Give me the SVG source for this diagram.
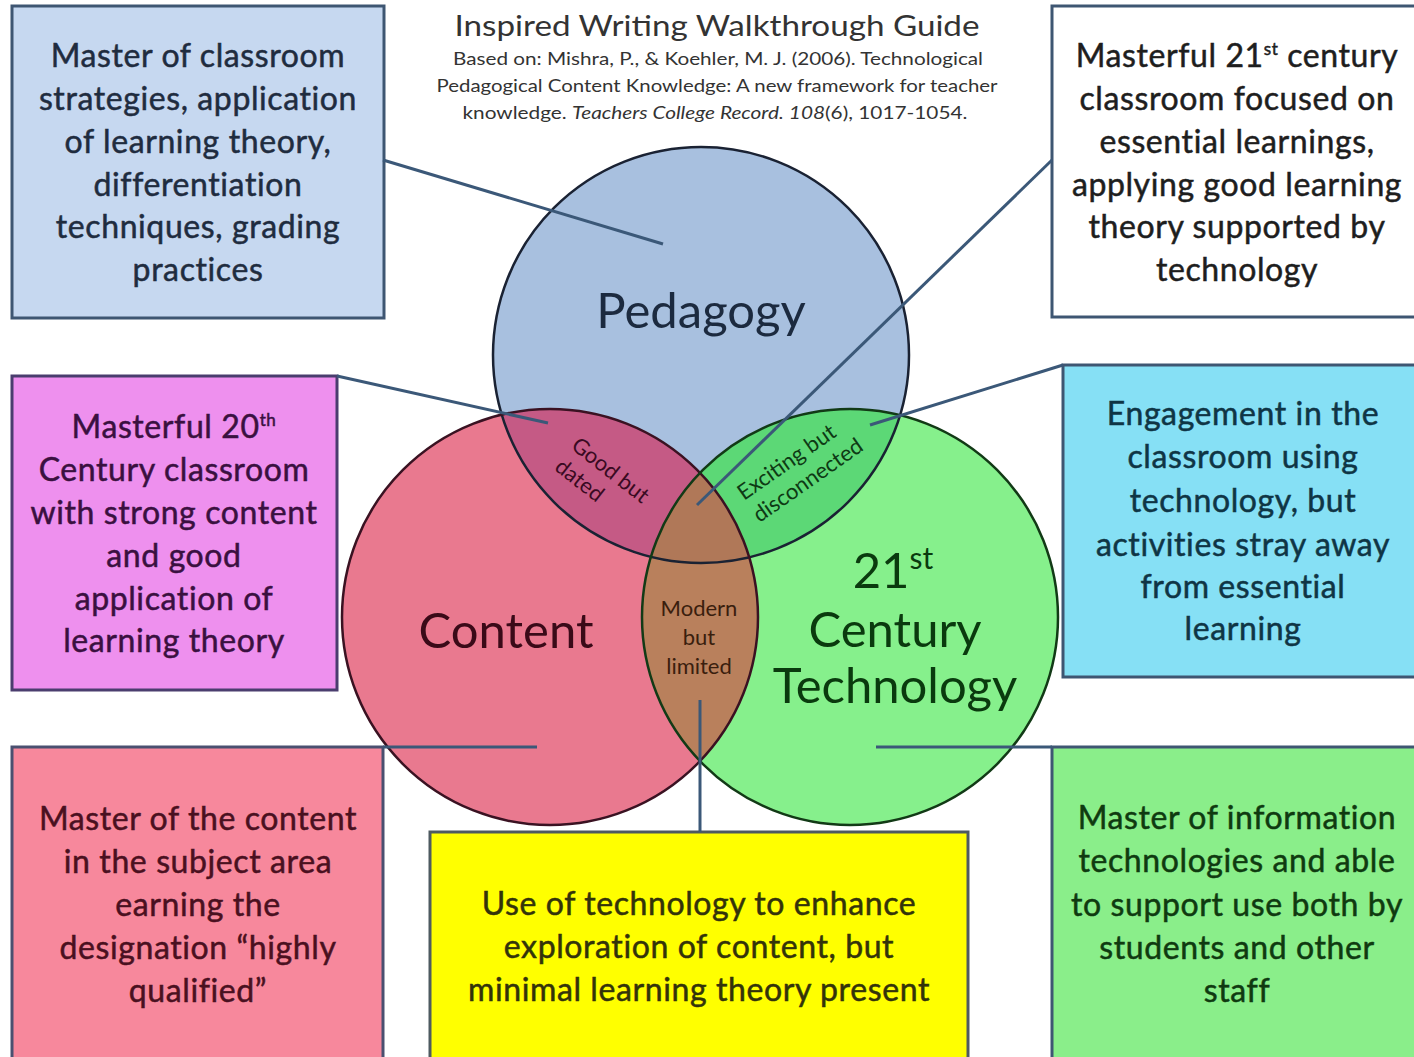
<svg xmlns="http://www.w3.org/2000/svg" width="1414" height="1057" viewBox="0 0 1414 1057">
<style>
  .box { stroke-width: 3; }
  .bt { font-family: Lato, "Open Sans", "Liberation Sans", sans-serif; font-size: 32px; letter-spacing: 0.6px; text-anchor: middle; stroke-width: 0.5px; }
  .big { font-family: Lato, "Open Sans", "Liberation Sans", sans-serif; font-size: 49px; text-anchor: middle; }
  .small { font-family: Lato, "Open Sans", "Liberation Sans", sans-serif; font-size: 22px; }
  .conn { stroke: #3b5878; stroke-width: 3; fill: none; }
  .ttl { font-family: Lato, "Open Sans", "Liberation Sans", sans-serif; fill: #333; text-anchor: middle; }
</style>
<defs>
  <clipPath id="clipB"><circle cx="701" cy="355" r="208"/></clipPath>
  <clipPath id="clipR"><circle cx="550" cy="617" r="208"/></clipPath>
</defs>
<rect width="1414" height="1057" fill="#ffffff"/>

<g id="title">
  <text class="ttl" x="717" y="36" font-size="29" textLength="525" lengthAdjust="spacingAndGlyphs">Inspired Writing Walkthrough Guide</text>
  <text class="ttl" x="718" y="65" font-size="17" textLength="530" lengthAdjust="spacingAndGlyphs">Based on: Mishra, P., &amp; Koehler, M. J. (2006). Technological</text>
  <text class="ttl" x="717" y="92" font-size="17" textLength="561" lengthAdjust="spacingAndGlyphs">Pedagogical Content Knowledge: A new framework for teacher</text>
  <text class="ttl" x="715" y="119" font-size="17" textLength="505" lengthAdjust="spacingAndGlyphs">knowledge. <tspan font-style="italic">Teachers College Record. 108</tspan>(6), 1017-1054.</text>
</g>

<g id="box-pedagogy">
  <rect class="box" x="12" y="6" width="372" height="312" fill="#c6d8f0" stroke="#3e5672"/>
  <g class="bt" fill="#1f2c3f" stroke="#1f2c3f">
    <text x="198" y="67">Master of classroom</text>
    <text x="198" y="110">strategies, application</text>
    <text x="198" y="153">of learning theory,</text>
    <text x="198" y="196">differentiation</text>
    <text x="198" y="238">techniques, grading</text>
    <text x="198" y="281">practices</text>
  </g>
</g>

<g id="box-tpack">
  <rect class="box" x="1052" y="6" width="380" height="311" fill="#ffffff" stroke="#3e5672"/>
  <g class="bt" fill="#1e1e1e" stroke="#1e1e1e">
    <text x="1237" y="67">Masterful 21<tspan font-size="17" dy="-12">st</tspan><tspan dy="12"> century</tspan></text>
    <text x="1237" y="110">classroom focused on</text>
    <text x="1237" y="153">essential learnings,</text>
    <text x="1237" y="196">applying good learning</text>
    <text x="1237" y="238">theory supported by</text>
    <text x="1237" y="281">technology</text>
  </g>
</g>

<g id="box-pck">
  <rect class="box" x="12" y="376" width="325" height="314" fill="#ee90ee" stroke="#4a3d6e"/>
  <g class="bt" fill="#3a1040" stroke="#3a1040">
    <text x="174" y="438">Masterful 20<tspan font-size="17" dy="-12">th</tspan></text>
    <text x="174" y="481">Century classroom</text>
    <text x="174" y="524">with strong content</text>
    <text x="174" y="567">and good</text>
    <text x="174" y="610">application of</text>
    <text x="174" y="652">learning theory</text>
  </g>
</g>

<g id="box-tpk">
  <rect class="box" x="1063" y="365" width="370" height="312" fill="#86e0f5" stroke="#3e5672"/>
  <g class="bt" fill="#0f3545" stroke="#0f3545">
    <text x="1243" y="425">Engagement in the</text>
    <text x="1243" y="468">classroom using</text>
    <text x="1243" y="512">technology, but</text>
    <text x="1243" y="556">activities stray away</text>
    <text x="1243" y="598">from essential</text>
    <text x="1243" y="640">learning</text>
  </g>
</g>

<g id="box-content">
  <rect class="box" x="12" y="747" width="371" height="330" fill="#f7889c" stroke="#4a5070"/>
  <g class="bt" fill="#4a1020" stroke="#4a1020">
    <text x="198" y="830">Master of the content</text>
    <text x="198" y="873">in the subject area</text>
    <text x="198" y="916">earning the</text>
    <text x="198" y="959">designation “highly</text>
    <text x="198" y="1002">qualified”</text>
  </g>
</g>

<g id="box-tck">
  <rect class="box" x="430" y="832" width="538" height="250" fill="#ffff00" stroke="#4e5a60"/>
  <g class="bt" fill="#33330a" stroke="#33330a">
    <text x="699" y="915">Use of technology to enhance</text>
    <text x="699" y="958">exploration of content, but</text>
    <text x="699" y="1001">minimal learning theory present</text>
  </g>
</g>

<g id="box-technology">
  <rect class="box" x="1052" y="747" width="380" height="330" fill="#8aee8a" stroke="#3e5672"/>
  <g class="bt" fill="#0f3a10" stroke="#0f3a10">
    <text x="1237" y="829">Master of information</text>
    <text x="1237" y="872">technologies and able</text>
    <text x="1237" y="916">to support use both by</text>
    <text x="1237" y="959">students and other</text>
    <text x="1237" y="1002">staff</text>
  </g>
</g>

<g id="circle-pedagogy">
  <circle cx="701" cy="355" r="208" fill="#a8c0df"/>
  <text class="big" x="701" y="328" fill="#1c2a3f">Pedagogy</text>
</g>
<g id="circle-content">
  <circle cx="550" cy="617" r="208" fill="#e9798f"/>
  <text class="big" x="506" y="648" fill="#3a0a18">Content</text>
</g>
<g id="circle-technology">
  <circle cx="850" cy="617" r="208" fill="#86f08c"/>
  <g class="big" fill="#0a3a0e">
    <text x="893" y="588">21<tspan font-size="30" dy="-19">st</tspan></text>
    <text x="895" y="647">Century</text>
    <text x="895" y="703">Technology</text>
  </g>
</g>

<g id="overlaps">
  <g id="region-pck" clip-path="url(#clipB)"><circle cx="550" cy="617" r="208" fill="#c55a85"/></g>
  <g id="region-tpk" clip-path="url(#clipB)"><circle cx="850" cy="617" r="208" fill="#5cd876"/></g>
  <g id="region-tck" clip-path="url(#clipR)"><circle cx="850" cy="617" r="208" fill="#b9805c"/></g>
  <g id="region-tpack" clip-path="url(#clipB)"><g clip-path="url(#clipR)"><circle cx="850" cy="617" r="208" fill="#b07858"/></g></g>
</g>

<g id="outlines" fill="none" stroke-width="2.5">
  <circle cx="701" cy="355" r="208" stroke="#1a2233"/>
  <circle cx="550" cy="617" r="208" stroke="#3a1222"/>
  <circle cx="850" cy="617" r="208" stroke="#123a16"/>
</g>

<g id="connectors">
  <line class="conn" x1="383" y1="160" x2="663" y2="244"/>
  <line class="conn" x1="1052" y1="160" x2="697" y2="505"/>
  <line class="conn" x1="337" y1="376" x2="548" y2="423"/>
  <line class="conn" x1="1063" y1="365" x2="870" y2="425"/>
  <line class="conn" x1="383" y1="747" x2="537" y2="747"/>
  <line class="conn" x1="876" y1="747" x2="1052" y2="747"/>
  <line class="conn" x1="700" y1="700" x2="700" y2="832"/>
</g>

<g id="region-labels" class="small">
  <g transform="translate(570,448) rotate(38)" fill="#3a0a22">
    <text x="0" y="0">Good but</text>
    <text x="0" y="27">dated</text>
  </g>
  <g transform="translate(744,501) rotate(-35)" fill="#0e3a14">
    <text x="0" y="0">Exciting but</text>
    <text x="0" y="27">disconnected</text>
  </g>
  <g text-anchor="middle" fill="#3a1e0e">
    <text x="699" y="616">Modern</text>
    <text x="699" y="645">but</text>
    <text x="699" y="674">limited</text>
  </g>
</g>
</svg>
